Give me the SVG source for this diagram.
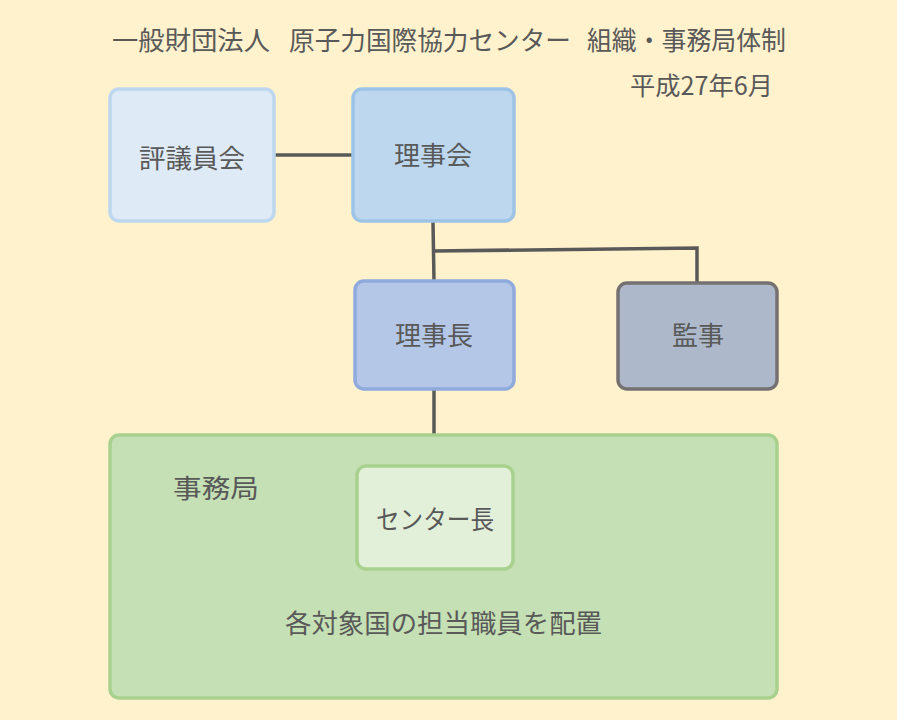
<svg xmlns="http://www.w3.org/2000/svg" width="897" height="720" viewBox="0 0 897 720">
<style>
text{font-family:"Noto Sans CJK JP","Noto Sans",sans-serif;fill:#595959;font-size:26px}
.c{text-anchor:middle}
.box{stroke-width:3.5}
.conn{stroke:#595959;stroke-width:3.5;fill:none}
</style>
<rect width="897" height="720" fill="#fff2cc"/>
<g id="title">
<text x="112" y="50" textLength="158" lengthAdjust="spacingAndGlyphs">一般財団法人</text>
<text x="289" y="50" textLength="282" lengthAdjust="spacingAndGlyphs">原子力国際協力センター</text>
<text x="587" y="50" textLength="199" lengthAdjust="spacingAndGlyphs">組織・事務局体制</text>
</g>
<text id="date" x="630" y="95" textLength="143" lengthAdjust="spacingAndGlyphs" style="font-size:25px">平成27年6月</text>
<g id="connectors">
<line class="conn" x1="275" y1="155" x2="353" y2="155"/>
<line class="conn" x1="433" y1="222" x2="434" y2="281"/>
<polyline class="conn" points="433,251 697,248 697,282"/>
<line class="conn" x1="434" y1="389" x2="434" y2="464"/>
</g>
<g id="n-hyogiinkai">
<rect class="box" x="110" y="89" width="164" height="132" rx="9" fill="#deebf7" stroke="#bdd7ee"/>
<text class="c" x="192" y="168" textLength="106" lengthAdjust="spacingAndGlyphs">評議員会</text>
</g>
<g id="n-rijikai">
<rect class="box" x="353" y="89" width="161" height="132" rx="9" fill="#bdd7ee" stroke="#9dc3e6"/>
<text class="c" x="433" y="165">理事会</text>
</g>
<g id="n-rijicho">
<rect class="box" x="355" y="281" width="159" height="108" rx="9" fill="#b4c7e7" stroke="#8faadc"/>
<text class="c" x="434" y="345">理事長</text>
</g>
<g id="n-kanji">
<rect class="box" x="618" y="283" width="159" height="106" rx="9" fill="#adb9ca" stroke="#767171"/>
<text class="c" x="698" y="345">監事</text>
</g>
<g id="n-jimukyoku">
<rect class="box" x="110" y="435" width="667" height="263" rx="9" fill="#c5e0b4" stroke="#a9d18e"/>
<text class="c" x="216" y="498" textLength="86" lengthAdjust="spacingAndGlyphs">事務局</text>
<text class="c" x="443.5" y="633" textLength="317" lengthAdjust="spacingAndGlyphs">各対象国の担当職員を配置</text>
</g>
<g id="n-centercho">
<rect class="box" x="357" y="466" width="156" height="103" rx="9" fill="#e2f0d9" stroke="#a9d18e"/>
<text class="c" x="435" y="529" textLength="118" lengthAdjust="spacingAndGlyphs">センター長</text>
</g>
</svg>
